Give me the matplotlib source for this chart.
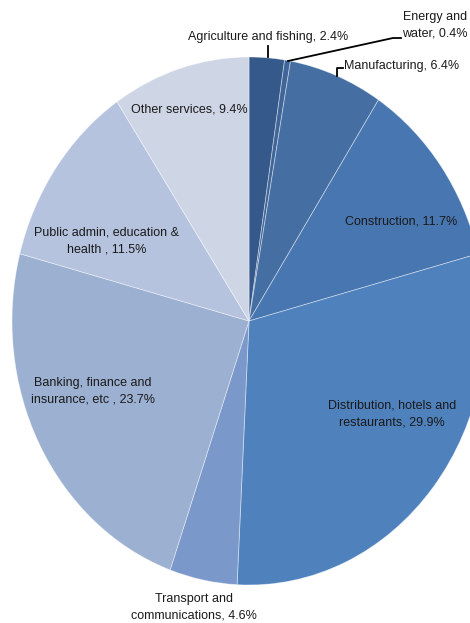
import matplotlib
matplotlib.use("Agg")
import matplotlib.pyplot as plt
from matplotlib.lines import Line2D

plt.rcParams['font.family'] = ['Liberation Sans Narrow', 'Liberation Sans', 'DejaVu Sans']

sectors = ['Agriculture and fishing', 'Energy and water', 'Manufacturing',
           'Construction', 'Distribution, hotels and restaurants',
           'Transport and communications', 'Banking, finance and insurance, etc',
           'Public admin, education & health', 'Other services']
shares = [2.4, 0.4, 6.4, 11.7, 29.9, 4.6, 23.7, 11.5, 9.4]
colours = ['#34598A', '#3F6599', '#456FA3', '#4876B0', '#4F81BD',
           '#7A99CA', '#9CB0D2', '#B5C3DE', '#CED6E6']
label_texts = ['Agriculture and fishing, 2.4%', 'Energy and\nwater, 0.4%',
               'Manufacturing, 6.4%', 'Construction, 11.7%',
               'Distribution, hotels and\nrestaurants, 29.9%',
               'Transport and\ncommunications, 4.6%',
               'Banking, finance and\ninsurance, etc , 23.7%',
               'Public admin, education &\nhealth , 11.5%',
               'Other services, 9.4%']

W, H = 470, 623
cx, cy, rx, ry = 249, 321, 237, 264   # pie centre / radii in pixels

fig = plt.figure(figsize=(W / 100, H / 100), dpi=100)
ax = fig.add_axes([0, 0, 1, 1])
ax.pie(shares, colors=colours, startangle=90, counterclock=False, radius=1,
       wedgeprops=dict(edgecolor=(1, 1, 1, 0.45), linewidth=0.6))
ax.set_aspect('auto')
ax.set_xlim(-cx / rx, (W - cx) / rx)
ax.set_ylim(-(H - cy) / ry, cy / ry)
ax.axis('off')


def fpos(px, py):
    return px / W, 1 - py / H


# label positions (pixel centres)
label_pos = [(268, 37), (435, 25), (402, 66), (401, 221), (392, 414),
             (194, 607), (93, 391), (107, 241), (189, 109)]
for txt, (px, py) in zip(label_texts, label_pos):
    fx, fy = fpos(px, py)
    fig.text(fx, fy, txt, ha='center', va='center', fontsize=9,
             linespacing=1.55, color='#1a1a1a')

# leader lines
leaders = [
    [(268, 46), (268, 57)],
    [(288, 61), (393, 38), (401, 38)],
    [(337, 76), (337, 68), (343, 68)],
]
for pts in leaders:
    xs = [fpos(*p)[0] for p in pts]
    ys = [fpos(*p)[1] for p in pts]
    fig.add_artist(Line2D(xs, ys, color='black', linewidth=1.3,
                          transform=fig.transFigure))

fig.savefig('out.png', dpi=100)
